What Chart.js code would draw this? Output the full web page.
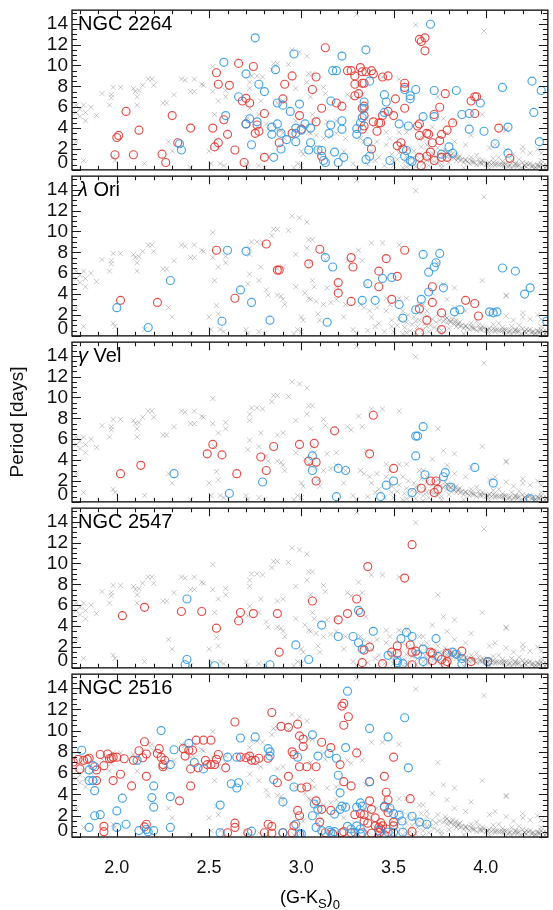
<!DOCTYPE html>
<html>
<head>
<meta charset="utf-8">
<script src="https://cdn.jsdelivr.net/npm/chart.js@4.4.1/dist/chart.umd.min.js"></script>
<style>
  html, body { margin: 0; padding: 0; background: #fff; }
  #wrap { position: relative; width: 553px; height: 910px; overflow: hidden; background: #fff; }
  #wrap canvas { position: absolute; left: 0; }
</style>
</head>
<body>
<div id="wrap"></div>
<script>
// ---- axis ranges and tick labels ----
const X_MIN = 1.757, X_MAX = 4.336;
const Y_MIN = 0, Y_MAX = 15.3;
const xTickValues = [2.0, 2.5, 3.0, 3.5, 4.0];
const yTickValues = [0, 2, 4, 6, 8, 10, 12, 14];
const clusterNames = ['NGC 2264', 'λ Ori', 'γ Vel', 'NGC 2547', 'NGC 2516'];

// ---- comparison sample (grey crosses), shown in every panel: [colour, period] ----
const comparisonField = [
  [1.78,6.2],[1.82,6.2],[1.80,5.8],[1.83,5.5],[1.78,5.5],[1.83,4.7],[1.86,6.0],[1.80,5.1],[1.78,2.7],[1.82,0.9],
  [1.89,5.2],[1.92,7.3],[1.96,6.2],[1.97,7.2],[1.97,6.9],[1.98,7.9],[1.98,1.2],[1.99,0.9],[2.02,7.9],
  [2.09,7.8],[2.10,7.5],[2.11,7.0],[2.11,6.2],[2.12,7.6],[2.14,8.1],[2.17,8.7],[2.19,8.7],[2.20,8.1],[2.15,0.6],
  [2.25,6.4],[2.27,6.4],[2.28,2.7],[2.30,1.8],[2.31,7.2],[2.35,8.7],[2.37,8.6],[2.40,7.5],[2.42,7.5],[2.42,8.7],
  [2.46,8.2],[2.47,8.1],[2.40,0.2],[2.50,1.8],[2.52,9.9],[2.52,7.5],[2.53,5.3],[2.54,2.9],[2.55,2.1],[2.55,6.6],
  [2.59,7.6],[2.59,7.0],[2.51,0.6],[2.56,0.6],[2.58,0.4],[2.70,0.6],[2.71,0.2],[2.72,7.8],[2.72,8.4],[2.73,9.0],[2.76,9.0],
  [2.72,5.9],[2.71,5.0],[2.77,5.3],[2.78,6.6],[2.79,8.9],[2.80,0.2],[2.77,0.4],[2.81,4.4],[2.82,3.9],
  [2.84,9.6],[2.85,10.2],[2.87,10.2],[2.87,6.4],[2.90,6.6],[2.87,3.9],[2.89,3.8],[2.90,3.5],[2.91,3.0],[2.93,10.1],
  [2.95,11.5],[2.99,11.3],[3.03,10.9],[2.97,7.8],[2.97,4.7],[2.98,0.6],[3.00,0.4],[2.96,0.2],[3.00,1.8],[3.01,1.5],
  [3.02,4.1],[3.04,3.6],[3.03,8.4],[3.04,9.2],[3.06,9.2],[3.05,7.0],[3.06,5.3],[3.07,4.7],[3.05,3.5],[3.08,3.3],
  [3.09,2.1],[3.10,1.5],[3.12,7.9],[3.13,7.3],[3.14,4.6],[3.12,3.0],[3.16,3.2],[3.19,4.7],[3.19,3.5],[3.24,3.0],
  [3.23,1.8],[3.25,7.2],[3.27,6.9],[3.28,0.6],[3.30,0.2],[3.31,8.2],[3.30,14.9],[3.33,7.2],[3.32,3.0],[3.34,2.7],
  [3.35,4.9],[3.37,2.4],[3.38,1.8],[3.41,2.7],[3.42,1.2],[3.44,8.9],[3.38,8.9],[3.46,3.6],[3.46,2.4],[3.48,3.0],
  [3.49,1.5],[3.49,0.9],[3.53,8.7],[3.53,3.6],[3.55,2.4],[3.57,3.6],[3.62,13.9],[3.64,3.0],[3.66,3.0],[3.68,2.4],
  [3.71,4.1],[3.74,7.0],[3.77,4.9],[3.79,3.5],[3.83,4.6],[3.83,2.7],[3.89,2.4],[3.92,3.3],[3.98,5.3],[3.99,13.3],
  [4.02,2.1],[4.05,2.4],[4.11,3.9],[4.11,3.8],[4.11,1.9],[4.20,1.8],[4.24,1.6],
  [4.28,2.0],[4.30,1.6],[4.20,2.2],[4.15,1.5],[3.45,0.4],[3.40,0.9],[3.36,0.5],
  [3.50,0.4],[3.52,1.0],[3.53,1.6],[3.55,0.2],[3.56,0.8],[3.57,1.3],[3.58,2.0],[3.59,0.5],[3.60,1.1],[3.61,1.8],
  [3.62,0.3],[3.63,0.9],[3.64,1.5],[3.65,2.2],[3.66,0.6],[3.67,1.2],[3.68,1.9],[3.69,0.4],[3.70,1.0],[3.71,1.6],
  [3.72,0.8],[3.73,1.3],[3.74,2.1],[3.75,1.5],[3.76,0.5],[3.77,1.4],[3.78,1.6],[3.79,1.2],[3.80,0.7],[3.81,1.3],
  [3.82,1.6],[3.83,1.1],[3.84,0.9],[3.85,1.2],[3.86,0.9],[3.87,1.0],[3.88,0.7],[3.89,0.9],[3.90,0.8],[3.91,0.6],
  [3.92,1.2],[3.93,0.7],[3.94,0.7],[3.95,0.5],[3.96,1.0],[3.97,0.6],[3.98,0.6],[3.99,0.8],[4.00,0.5],[4.01,0.6],
  [4.02,0.7],[4.03,0.5],[4.04,1.1],[4.05,0.4],[4.06,0.6],[4.07,0.5],[4.08,0.5],[4.09,0.8],[4.10,0.4],[4.11,0.6],
  [4.12,0.3],[4.13,0.5],[4.14,0.9],[4.15,0.4],[4.16,0.6],[4.17,0.3],[4.18,0.5],[4.19,0.2],[4.20,0.7],[4.21,0.4],
  [4.22,0.3],[4.23,0.5],[4.24,0.6],[4.25,0.3],[4.26,0.4],[4.27,0.2],[4.28,0.5],[4.29,0.3],[4.30,0.6],[4.31,0.4],
  [4.32,0.2],[4.33,0.4],
  [3.62,1.4],[3.68,0.9],[3.74,0.6],[3.80,1.5],[3.86,1.3],[3.92,0.9],[3.98,0.9],[4.04,0.7],[4.10,0.6],[4.16,0.5],
  [4.22,0.6],[4.28,0.4],[3.78,1.9],[3.84,1.5],[3.95,1.4],[4.07,1.2],[4.18,1.0],[4.30,0.9],[3.57,0.3],[3.66,0.1],
  [3.76,0.2],[3.88,0.2],[4.02,0.1],[4.14,0.1],[4.26,0.1],[3.79,1.7],[3.81,1.4],[3.83,1.3],[3.85,1.1],[3.89,1.0],
  [3.93,0.8],[3.97,0.7],[4.01,0.5],[4.05,0.6],[4.09,0.5],[4.13,0.4],[4.17,0.5],[4.21,0.4],[4.25,0.4],[4.29,0.4],[4.33,0.3]
];

// ---- cluster members: [colour, period] ----
const ngc2264Red = [
  [2.05,5.6],[2.00,3.1],[2.01,3.3],[1.99,1.45],[2.09,1.45],[2.12,3.8],
  [2.245,1.5],[2.265,0.7],[2.30,5.2],[2.33,2.6],[2.40,4.0],[2.52,4.0],[2.54,9.3],[2.55,8.2],[2.55,2.6],[2.53,2.2],
  [2.58,4.8],[2.60,3.4],[2.61,8.1],[2.64,1.9],[2.66,10.2],[2.68,6.6],[2.70,6.85],[2.72,6.4],[2.69,0.7],[2.74,9.9],
  [2.70,4.4],[2.76,4.3],[2.75,3.5],[2.77,3.7],[2.80,5.4],[2.80,1.2],[2.88,2.6],[2.90,6.8],[2.91,8.2],[2.95,9.0],
  [2.95,3.5],[2.99,5.2],[3.00,3.9],[3.06,7.7],[3.08,8.9],[3.08,4.6],[3.11,1.3],[3.11,5.9],[3.13,11.7],[3.19,6.4],
  [3.22,6.1],[3.25,9.5],
  [3.27,9.5],[3.29,9.0],[3.29,8.2],[3.32,9.8],[3.33,8.3],[3.34,8.3],[3.33,9.4],[3.35,9.4],[3.38,9.5],[3.39,9.2],
  [3.29,7.1],[3.31,7.3],[3.33,5.9],[3.34,6.1],[3.34,5.2],[3.34,4.2],[3.33,3.9],[3.38,2.0],[3.39,4.6],[3.42,4.5],
  [3.41,3.7],[3.43,4.5],[3.44,5.2],[3.47,5.6],[3.44,8.9],[3.47,9.0],[3.50,5.2],[3.51,6.8],[3.52,2.3],[3.54,2.6],
  [3.55,2.0],[3.56,8.3],[3.56,7.9],[3.56,5.9],[3.64,12.5],[3.65,12.3],[3.67,12.65],[3.67,11.4],[3.63,4.2],[3.64,4.4],
  [3.64,3.3],[3.68,3.5],[3.69,3.4],[3.71,2.6],[3.72,5.3],[3.75,6.0],[3.76,3.4],[3.75,2.8],[3.79,3.8],[3.82,4.5],
  [3.78,7.3],[3.72,0.9],[3.68,1.3],[3.64,1.2],[3.70,1.7],[3.76,1.2],[3.92,6.6],[3.94,7.0],[3.95,7.0],[3.94,5.4],
  [4.07,4.0],[4.13,1.1],[3.65,0.4],[3.79,1.2]
];
const ngc2264Blue = [
  [2.34,2.5],[2.35,1.9],[2.58,10.3],[2.59,5.2],[2.70,9.2],[2.77,8.2],[2.80,7.5],[2.75,12.65],[2.66,7.0],[2.72,4.9],
  [2.70,4.4],[2.76,4.6],[2.73,2.4],[2.86,9.6],[2.87,6.4],[2.90,6.2],[2.94,5.6],[2.84,4.1],[2.87,4.4],[2.84,3.4],
  [2.89,3.5],[2.85,1.2],[2.89,2.0],[2.92,2.9],[2.96,11.1],[2.99,6.3],[2.97,4.0],[2.97,3.5],[3.00,3.8],[3.02,4.4],
  [2.97,2.7],[3.05,4.0],[3.05,2.6],[3.04,1.9],[3.09,1.9],[3.11,1.85],[3.12,0.9],[3.13,0.7],[3.16,6.6],[3.17,9.5],
  [3.19,9.5],[3.16,4.3],[3.15,3.5],[3.18,1.7],[3.20,0.7],[3.22,10.9],[3.22,3.9],[3.22,4.7],[3.23,1.2],
  [3.35,11.5],[3.37,8.5],[3.34,6.5],[3.34,5.9],[3.33,5.0],[3.32,4.5],[3.30,3.95],[3.30,3.4],[3.36,2.7],[3.35,1.0],
  [3.37,1.3],[3.45,7.2],[3.46,6.5],[3.45,5.5],[3.48,0.9],[3.53,4.4],[3.58,4.2],[3.56,7.7],[3.57,1.85],[3.56,1.3],
  [3.59,0.9],[3.60,0.8],[3.59,6.8],[3.62,7.7],[3.59,7.1],[3.66,5.1],[3.70,13.95],[3.72,7.6],[3.72,5.1],[3.80,2.2],
  [3.82,1.6],[3.76,1.5],[3.84,7.6],[3.87,5.3],[3.91,5.4],[3.91,3.9],[3.97,6.4],[3.99,3.7],[4.05,2.5],[4.09,7.9],
  [4.12,1.6],[4.12,4.1],[4.25,8.5],[4.26,5.5],[4.30,7.6],[4.29,2.7]
];
const lamOriRed = [
  [2.02,3.4],[2.22,3.2],[2.54,8.2],[2.64,3.6],[2.81,8.8],[2.87,6.3],[2.88,6.3],[3.04,6.9],[3.10,8.3],[3.20,5.1],
  [3.20,4.1],[3.27,7.5],[3.28,6.6],[3.27,3.3],[3.42,6.2],[3.42,4.7],[3.46,7.4],[3.49,3.5],[3.52,5.7],[3.56,8.2],
  [3.64,2.6],[3.64,0.3],[3.68,1.5],[3.71,3.2],[3.71,4.7],[3.76,2.2],[3.76,0.6],[3.89,3.4],[3.94,3.1],[3.96,1.9]
];
const lamOriBlue = [
  [2.00,2.7],[2.17,0.8],[2.29,5.3],[2.57,1.4],[2.60,8.2],[2.67,4.4],[2.70,8.1],[2.73,3.2],[2.83,1.5],[3.13,7.5],
  [3.14,1.3],[3.17,6.6],[3.33,3.4],[3.36,5.0],[3.40,3.4],[3.44,5.5],[3.49,5.6],[3.53,3.0],[3.55,1.7],[3.62,2.5],
  [3.65,3.5],[3.66,7.8],[3.69,6.1],[3.69,4.2],[3.72,6.6],[3.73,7.0],[3.75,7.9],[3.77,4.6],[3.83,2.3],[3.86,2.5],
  [4.02,2.3],[4.04,2.2],[4.06,2.3],[4.09,6.5],[4.16,6.2],[4.21,4.0],[4.24,4.6],[4.33,1.4]
];
const gamVelRed = [
  [2.02,2.7],[2.13,3.5],[2.49,4.6],[2.52,5.5],[2.57,4.5],[2.65,2.7],[2.78,4.3],[2.81,3.0],[2.85,5.3],[2.99,5.5],
  [3.04,3.9],[3.07,5.6],[3.08,3.8],[3.08,2.0],[3.18,6.8],[3.37,4.6],[3.39,8.3],[3.50,3.2],[3.65,1.3],[3.70,2.0],
  [3.73,2.0],[3.72,0.9],[3.74,1.2]
];
const gamVelBlue = [
  [2.31,2.7],[2.61,0.8],[2.79,1.9],[3.06,4.4],[3.06,3.0],[3.20,3.2],[3.24,3.0],[3.19,0.5],[3.43,0.5],[3.46,1.6],
  [3.50,2.0],[3.60,0.9],[3.62,4.4],[3.62,6.3],[3.63,6.3],[3.66,7.2],[3.67,2.6],[3.77,2.4],[3.78,2.8],[3.81,1.4],
  [3.94,3.3],[4.04,1.8],[4.24,0.3]
];
const ngc2547Red = [
  [2.03,5.0],[2.15,5.8],[2.35,5.4],[2.46,5.4],[2.54,3.8],[2.66,4.5],[2.67,5.3],[2.74,5.2],[2.87,5.2],[2.88,1.5],
  [3.06,6.4],[3.20,4.6],[3.25,5.2],[3.30,6.6],[3.32,5.3],[3.34,1.7],[3.33,0.5],[3.37,2.0],[3.36,9.7],[3.44,0.4],
  [3.49,1.5],[3.52,1.4],[3.52,2.1],[3.56,8.6],[3.59,2.2],[3.60,1.5],[3.60,11.8],[3.60,0.3],[3.62,1.6],[3.70,1.5],
  [3.71,1.4],[3.71,0.7],[3.76,0.8],[3.78,0.4],[3.79,0.6],[3.79,1.4],[3.87,1.6],[3.92,0.6],[4.01,0.6]
];
const ngc2547Blue = [
  [2.38,6.6],[2.38,0.8],[2.37,0.3],[2.53,0.2],[2.83,0.3],[2.97,2.2],[3.04,0.8],[3.11,4.1],[3.20,3.0],[3.28,3.0],
  [3.31,5.5],[3.31,2.4],[3.33,1.8],[3.39,3.5],[3.47,1.2],[3.52,0.7],[3.52,0.5],[3.54,2.8],[3.55,0.4],[3.57,3.4],
  [3.60,3.0],[3.63,1.3],[3.66,1.8],[3.66,0.6],[3.73,2.8],[3.74,1.1],[3.82,1.5],[3.84,1.3],[3.87,0.4],[3.87,0.9],
  [4.01,0.6]
];
const ngc2516Red = [
  [1.764,7.05],[1.79,7.3],[1.80,6.4],[1.82,7.2],[1.84,7.3],[1.85,7.4],[1.88,6.6],[1.89,6.3],[1.89,5.3],[1.91,7.75],
  [1.93,6.7],[1.95,7.8],[1.96,7.35],[1.97,7.4],[1.98,5.3],[1.98,7.5],[2.00,7.5],[2.02,5.9],[2.04,7.35],[2.08,4.8],
  [1.93,1.0],[1.93,0.5],[2.09,7.2],[2.12,8.1],[2.14,7.45],[2.15,8.95],[2.16,5.7],[2.16,7.8],[2.16,1.2],[2.15,0.95],
  [2.22,7.85],[2.23,8.3],[2.24,7.5],[2.25,6.8],[2.26,7.2],[2.25,6.6],
  [2.36,8.3],[2.37,7.6],[2.39,8.15],[2.41,8.15],[2.43,9.1],[2.40,6.4],[2.44,6.5],[2.47,9.1],[2.51,9.1],[2.48,7.2],
  [2.49,6.8],[2.51,6.8],[2.53,6.8],[2.55,7.75],[2.54,7.3],[2.59,6.5],[2.40,4.8],[2.34,3.4],[2.64,10.8],[2.67,7.5],
  [2.70,7.45],[2.72,7.6],[2.73,7.2],[2.75,7.2],[2.77,7.4],[2.82,7.4],[2.84,11.7],[2.87,5.1],[2.89,10.4],[2.93,10.3],
  [2.98,10.6],[2.95,8.0],[2.96,7.75],[2.99,9.5],[3.01,9.2],[3.01,8.5],[2.99,6.6],[3.03,6.6],[3.08,6.6],[3.11,8.9],
  [3.16,8.4],[3.21,6.8],[3.22,12.3],[3.23,12.55],[3.23,10.5],[2.93,5.7],[3.03,4.7],[3.00,4.6],[2.98,2.5],[2.99,2.0],
  [3.08,3.4],[3.11,2.6],[3.16,2.5],[3.10,1.4],[2.64,1.3],[2.64,0.9],[2.82,1.2],[2.84,1.0],[2.60,0.4],[2.71,0.4],
  [2.80,0.4],[2.95,0.4],[3.13,0.4],[3.17,0.3],[3.22,0.4],[2.96,1.05],[2.90,0.4],[2.84,0.35],[3.23,0.5],
  [3.255,11.3],[3.30,7.9],[3.23,5.2],[3.27,4.8],[3.37,5.2],[3.45,5.7],[3.50,7.5],[3.37,3.4],[3.46,4.2],[3.47,3.5],
  [3.59,3.6],[3.38,2.6],[3.45,2.8],[3.47,2.3],[3.34,2.1],[3.40,1.8],[3.29,2.1],[3.32,2.2],[3.34,1.5],[3.36,1.3],
  [3.40,1.05],[3.42,0.9],[3.43,0.75],[3.44,1.05],[3.46,0.75],[3.43,1.35],[3.425,0.45],[3.45,0.2],[3.33,0.4],[3.38,0.35],
  [3.50,1.4],[3.50,1.05],[3.60,0.5],[3.27,0.4]
];
const ngc2516Blue = [
  [1.81,8.15],[1.85,6.3],[1.87,6.7],[1.85,5.3],[1.87,5.3],[1.88,4.35],[1.88,2.0],[1.91,2.1],[1.85,0.9],[2.00,2.45],
  [2.03,3.65],[2.00,0.9],[2.05,1.2],[2.12,0.6],[2.11,7.2],[2.16,0.7],[2.17,0.5],[2.20,4.8],[2.19,3.7],[2.20,2.8],
  [2.29,3.8],
  [2.24,10.0],[2.31,8.2],[2.29,6.8],[2.39,8.8],[2.42,7.0],[2.47,6.4],[2.60,7.5],[2.65,7.5],[2.67,9.3],[2.75,9.4],
  [2.82,8.3],[2.83,7.6],[2.83,8.0],[2.85,5.4],[2.62,5.0],[2.66,5.1],[2.65,4.6],[2.56,3.0],[2.90,3.3],[2.96,4.7],
  [2.97,1.2],[2.98,7.5],[3.06,9.6],[3.09,7.6],[3.15,7.85],[3.19,7.4],[3.20,5.8],[3.21,4.15],[3.07,3.1],[3.15,0.6],
  [2.29,0.9],[2.20,0.6],[2.56,0.4],[2.73,0.55],[2.90,0.4],[3.00,0.3],[3.08,0.9],[3.11,0.6],[3.18,2.15],[3.21,2.6],
  [3.24,2.8],[3.25,13.7],[3.24,8.4],[3.06,2.0],[3.09,2.6],[3.22,2.9],[3.25,1.0],[2.99,0.3],[3.16,0.45],[3.18,0.5],
  [3.37,10.2],[3.56,11.2],[3.47,9.4],[3.58,6.5],[3.37,5.2],[3.32,3.2],[3.33,2.9],[3.30,2.8],[3.45,2.9],[3.48,2.7],
  [3.50,2.2],[3.53,2.05],[3.545,1.5],[3.60,1.95],[3.64,1.4],[3.68,1.2],[3.30,1.05],[3.32,0.75],[3.29,0.45],[3.32,0.3],
  [3.47,0.45],[3.50,0.45],[3.55,0.45],[3.42,0.6],[3.27,0.75]
];

const redSets = [ngc2264Red, lamOriRed, gamVelRed, ngc2547Red, ngc2516Red];
const blueSets = [ngc2264Blue, lamOriBlue, gamVelBlue, ngc2547Blue, ngc2516Blue];

// ---- look ----
const FONT = "'Liberation Sans', Arial, Helvetica, sans-serif";
const RED = 'rgba(228, 56, 50, 0.9)';
const BLUE = 'rgba(50, 155, 232, 0.9)';
const GREY = 'rgba(100, 100, 100, 0.34)';
const INK = '#1a1a1a';
const PANEL_TOPS = [7, 173, 339, 505, 671];
const PANEL_H = 166;
const PAD = 2;

const toPoints = arr => arr.map(([x, y]) => ({ x, y }));

// frame, inward ticks on all four sides, panel name, and the x title under the last panel
const panelFrame = {
  id: 'panelFrame',
  afterDatasetsDraw(chart, args, opts) {
    const { ctx, chartArea: a } = chart;
    const xs = chart.scales.x, ys = chart.scales.y;
    ctx.save();
    ctx.strokeStyle = INK;
    ctx.lineWidth = 1.1;
    ctx.beginPath();
    for (let k = Math.ceil(X_MIN * 10); k <= Math.floor(X_MAX * 10); k++) {
      const px = Math.round(xs.getPixelForValue(k / 10)) + 0.5;
      const len = k % 5 === 0 ? 8 : 4;
      ctx.moveTo(px, a.top); ctx.lineTo(px, a.top + len);
      ctx.moveTo(px, a.bottom); ctx.lineTo(px, a.bottom - len);
    }
    for (let k = Math.ceil(Y_MIN * 2); k <= Math.floor(Y_MAX * 2); k++) {
      const py = Math.round(ys.getPixelForValue(k / 2)) + 0.5;
      const len = k % 4 === 0 ? 9 : 5;
      ctx.moveTo(a.left, py); ctx.lineTo(a.left + len, py);
      ctx.moveTo(a.right, py); ctx.lineTo(a.right - len, py);
    }
    ctx.stroke();
    ctx.lineWidth = 1.4;
    ctx.strokeRect(a.left, a.top, a.right - a.left, a.bottom - a.top);

    // cluster name in the upper-left corner
    const name = opts.name || '';
    ctx.fillStyle = '#000';
    ctx.textBaseline = 'alphabetic';
    ctx.textAlign = 'left';
    let tx = a.left + 6;
    const ty = a.top + 20;
    if (/^[\u0370-\u03FF]/.test(name)) {
      ctx.font = `italic 20px ${FONT}`;
      ctx.fillText(name[0], tx, ty);
      tx += ctx.measureText(name[0]).width;
      ctx.font = `20px ${FONT}`;
      ctx.fillText(name.slice(1), tx, ty);
    } else {
      ctx.font = `20px ${FONT}`;
      ctx.fillText(name, tx, ty);
    }

    // x axis title with subscripts, centred under the plot: (G-K_S)_0
    if (opts.xTitle) {
      const parts = [
        { t: '(G-K', size: 18, dy: 0 },
        { t: 'S', size: 13, dy: 5 },
        { t: ')', size: 18, dy: 0 },
        { t: '0', size: 13, dy: 6 }
      ];
      let total = 0;
      parts.forEach(p => { ctx.font = `${p.size}px ${FONT}`; p.w = ctx.measureText(p.t).width; total += p.w; });
      let cx = (a.left + a.right) / 2 - total / 2;
      const base = opts.xTitleBaseline;
      parts.forEach(p => {
        ctx.font = `${p.size}px ${FONT}`;
        ctx.fillText(p.t, cx, base + p.dy);
        cx += p.w;
      });
    }
    ctx.restore();
  }
};

const wrap = document.getElementById('wrap');

function makePanel(i) {
  const last = i === PANEL_TOPS.length - 1;
  const top = PANEL_TOPS[i] - PAD;
  const h = last ? 910 - top : PANEL_H + 2 * PAD;
  const canvas = document.createElement('canvas');
  canvas.width = 553; canvas.height = h;
  canvas.style.top = top + 'px';
  canvas.style.width = '553px'; canvas.style.height = h + 'px';
  wrap.appendChild(canvas);

  new Chart(canvas, {
    type: 'scatter',
    data: {
      datasets: [
        { label: 'slow', data: toPoints(blueSets[i]), pointStyle: 'circle', pointRadius: 4,
          borderColor: BLUE, backgroundColor: 'rgba(0,0,0,0)', borderWidth: 1.15, order: 1 },
        { label: 'fast', data: toPoints(redSets[i]), pointStyle: 'circle', pointRadius: 4,
          borderColor: RED, backgroundColor: 'rgba(0,0,0,0)', borderWidth: 1.15, order: 2 },
        { label: 'field', data: toPoints(comparisonField), pointStyle: 'crossRot', pointRadius: 3.6,
          borderColor: GREY, backgroundColor: GREY, borderWidth: 1, order: 3 }
      ]
    },
    options: {
      responsive: false,
      animation: false,
      events: [],
      layout: { padding: { left: 0, right: 2, top: PAD, bottom: last ? 0 : PAD } },
      plugins: {
        legend: { display: false },
        tooltip: { enabled: false },
        panelFrame: { name: clusterNames[i], xTitle: last, xTitleBaseline: 903 - top }
      },
      scales: {
        x: {
          type: 'linear', min: X_MIN, max: X_MAX,
          display: last,
          afterBuildTicks: s => { s.ticks = xTickValues.map(v => ({ value: v })); },
          afterFit: s => { s.height = h - PAD - PANEL_H; s.paddingLeft = 0; s.paddingRight = 0; },
          grid: { display: false, drawTicks: false },
          border: { display: false },
          ticks: {
            padding: 20, color: '#111', maxRotation: 0, autoSkip: false,
            font: { family: FONT, size: 18 },
            callback: v => Number(v).toFixed(1)
          }
        },
        y: {
          type: 'linear', min: Y_MIN, max: Y_MAX,
          afterBuildTicks: s => { s.ticks = yTickValues.map(v => ({ value: v })); },
          afterFit: s => { s.width = 72; s.paddingTop = 0; s.paddingBottom = 0; },
          grid: { display: false, drawTicks: false },
          border: { display: false },
          ticks: {
            padding: 4, color: '#111', autoSkip: false,
            // single-line labels are centred on their tick; the bottom "0" gets an
            // empty second line so it sits a little above the panel edge
            font: { family: FONT, size: 19, lineHeight: 0.7 },
            callback: v => (v === 0 ? ['0', ''] : String(v))
          },
          title: {
            display: i === 2,
            text: 'Period [days]',
            color: '#111',
            font: { family: FONT, size: 19, lineHeight: 1.2 },
            padding: { top: 6, bottom: 0 }
          }
        }
      }
    },
    plugins: [panelFrame]
  });
}

for (let i = 0; i < PANEL_TOPS.length; i++) makePanel(i);
</script>
</body>
</html>
